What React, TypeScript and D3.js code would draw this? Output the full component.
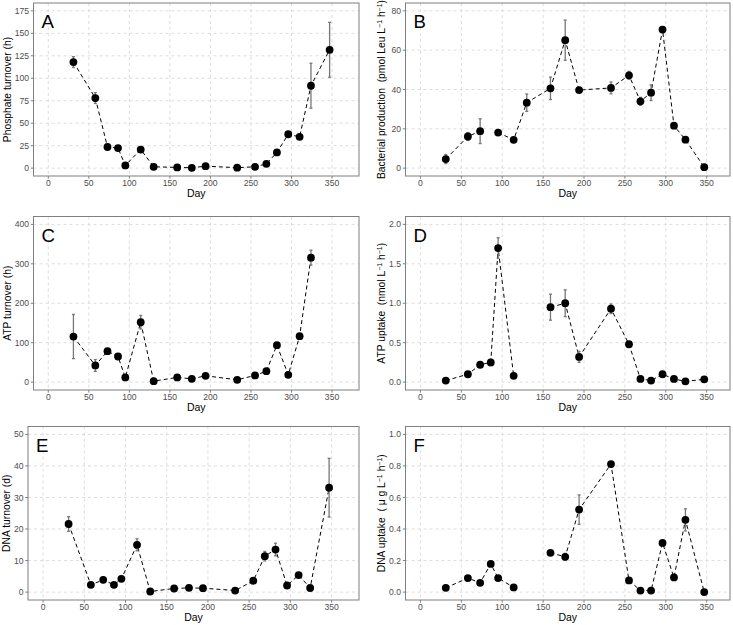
import React from "react";
import * as d3 from "d3";

const days = [31, 58, 73, 86, 95, 114, 130, 159, 177, 194, 233, 255, 269, 282, 296, 310, 324, 347];

const phosphateTurnover = [118, 78, 23.5, 22.3, 3, 20.7, 1.5, 0.8, 0.4, 2.2, 0.5, 1.5, 4.8, 17.5, 37.7, 34.8, 91.7, 131.7];
const phosphateErr = [6, 6, 0, 0, 0, 0, 0, 0, 0, 0, 0, 0, 0, 0, 0, 0, 25, 30.5];

const bacterialProduction = [4.6, 16.1, 18.8, null, 18.1, 14.4, 33.3, 40.6, 65.1, 39.7, 40.8, 47.2, 34, 38.4, 70.5, 21.6, 14.5, 0.5];
const bacterialErr = [2.3, 2, 6.3, null, 0, 0, 4.4, 5.7, 10.2, 0, 3, 2, 2, 4, 1.3, 0, 0, 0];

const atpTurnover = [115.6, 42.2, 78.5, 65, 11.8, 152, 2.5, 11.8, 8.4, 16, 5.9, 16.9, 27.8, 93.7, 18.6, 116.5, 315.6, null];
const atpTurnoverErr = [56, 15, 0, 0, 0, 17, 0, 0, 0, 0, 0, 0, 0, 5, 0, 0, 19, null];

const atpUptake = [0.02, 0.1, 0.22, 0.25, 1.7, 0.08, null, 0.95, 1.0, 0.32, 0.93, 0.48, 0.04, 0.02, 0.1, 0.04, 0.01, 0.035];
const atpUptakeErr = [0, 0, 0, 0.04, 0.13, 0, null, 0.165, 0.17, 0.07, 0.06, 0, 0, 0, 0, 0, 0, 0];

const dnaTurnover = [21.6, 2.3, 3.9, 2.3, 4.2, 15, 0.2, 1.15, 1.35, 1.25, 0.5, 3.6, 11.4, 13.5, 2.1, 5.4, 1.3, 33.1];
const dnaTurnoverErr = [2.3, 0, 0, 0, 0, 1.9, 0, 0, 0, 0, 0, 0, 1.5, 2, 0, 0, 0, 9.3];

const dnaUptake = [0.027, 0.089, 0.059, 0.179, 0.089, 0.03, null, 0.249, 0.224, 0.523, 0.812, 0.074, 0.01, 0.01, 0.312, 0.093, 0.458, 0.0];
const dnaUptakeErr = [0, 0, 0, 0, 0, 0, null, 0, 0.022, 0.093, 0, 0, 0, 0, 0, 0, 0.07, 0];

const xTicks = [0, 50, 100, 150, 200, 250, 300, 350];
const ticksA = [0, 25, 50, 75, 100, 125, 150, 175];
const ticksB = [0, 20, 40, 60, 80];
const ticksC = [0, 100, 200, 300, 400];
const ticksD = [0, 0.5, 1.0, 1.5, 2.0];
const ticksE = [0, 10, 20, 30, 40, 50];
const ticksF = [0, 0.2, 0.4, 0.6, 0.8, 1.0];

const FONT = "Liberation Sans, Arial, Helvetica, sans-serif";

type Box = { left: number; right: number; top: number; bottom: number };

function Sup({ children }: { children: React.ReactNode }) {
  return (
    <tspan baselineShift="super" fontSize="7">
      {children}
    </tspan>
  );
}

function Panel(props: {
  box: Box;
  xDomain: [number, number];
  yTicks: number[];
  fmt: (v: number) => string;
  values: (number | null)[];
  errs: (number | null)[];
  letter: string;
  titleX: number;
  title: React.ReactNode;
}) {
  const { box, xDomain, yTicks, fmt, values, errs, letter, titleX, title } = props;
  const yMax = yTicks[yTicks.length - 1];
  const x = d3.scaleLinear().domain(xDomain).range([box.left, box.right]);
  const y = d3
    .scaleLinear()
    .domain([-0.05 * yMax, 1.05 * yMax])
    .range([box.bottom, box.top]);
  const pts = days.map((d, i) => ({ d, v: values[i], e: errs[i] }));
  const line = d3
    .line<{ d: number; v: number | null }>()
    .defined((p) => p.v != null)
    .x((p) => x(p.d))
    .y((p) => y(p.v as number));
  const midY = (box.top + box.bottom) / 2;
  return (
    <g>
      {xTicks.map((t) => (
        <line key={"gx" + t} x1={x(t)} x2={x(t)} y1={box.top} y2={box.bottom} stroke="#d4d4d4" strokeWidth={0.8} strokeDasharray="3,3" />
      ))}
      {yTicks.map((t) => (
        <line key={"gy" + t} x1={box.left} x2={box.right} y1={y(t)} y2={y(t)} stroke="#d4d4d4" strokeWidth={0.8} strokeDasharray="3,3" />
      ))}
      <path d={line(pts) || ""} fill="none" stroke="#000" strokeWidth={1} strokeDasharray="4,3" />
      {pts
        .filter((p) => p.v != null && p.e != null && (p.e as number) > 0)
        .map((p) => (
          <g key={"e" + p.d} stroke="#777" strokeWidth={1.3}>
            <line x1={x(p.d)} x2={x(p.d)} y1={y((p.v as number) - (p.e as number))} y2={y((p.v as number) + (p.e as number))} />
            <line x1={x(p.d) - 1.5} x2={x(p.d) + 1.5} y1={y((p.v as number) + (p.e as number))} y2={y((p.v as number) + (p.e as number))} />
            <line x1={x(p.d) - 1.5} x2={x(p.d) + 1.5} y1={y((p.v as number) - (p.e as number))} y2={y((p.v as number) - (p.e as number))} />
          </g>
        ))}
      {pts
        .filter((p) => p.v != null)
        .map((p) => (
          <circle key={"c" + p.d} cx={x(p.d)} cy={y(p.v as number)} r={3.9} fill="#000" />
        ))}
      <rect x={box.left} y={box.top} width={box.right - box.left} height={box.bottom - box.top} fill="none" stroke="#7f7f7f" strokeWidth={1} />
      {xTicks.map((t) => (
        <g key={"tx" + t}>
          <line x1={x(t)} x2={x(t)} y1={box.bottom} y2={box.bottom + 2.7} stroke="#7f7f7f" strokeWidth={1} />
          <text x={x(t)} y={box.bottom + 10} textAnchor="middle" fontSize={8.6} fill="#4d4d4d" fontFamily={FONT}>
            {t}
          </text>
        </g>
      ))}
      {yTicks.map((t) => (
        <g key={"ty" + t}>
          <line x1={box.left - 2.7} x2={box.left} y1={y(t)} y2={y(t)} stroke="#7f7f7f" strokeWidth={1} />
          <text x={box.left - 4.5} y={y(t) + 3.1} textAnchor="end" fontSize={8.6} fill="#4d4d4d" fontFamily={FONT}>
            {fmt(t)}
          </text>
        </g>
      ))}
      <text x={(box.left + box.right) / 2} y={box.bottom + 21} textAnchor="middle" fontSize={10.5} fill="#000" fontFamily={FONT}>
        Day
      </text>
      <text transform={`translate(${titleX},${midY}) rotate(-90)`} textAnchor="middle" fontSize={10.3} fill="#000" fontFamily={FONT} style={{ whiteSpace: "pre" }}>
        {title}
      </text>
      <text x={box.left + 8} y={box.top + 25} fontSize={18.6} fill="#000" fontFamily={FONT}>
        {letter}
      </text>
    </g>
  );
}

const fmtInt = (v: number) => d3.format("d")(v);
const fmt1 = (v: number) => d3.format(".1f")(v);

export default function App() {
  const leftDom: [number, number] = [-18.25, 383.25];
  const rightDom: [number, number] = [-18.25, 378.5];
  return (
    <svg width={733} height={625} style={{ position: "absolute", left: 0, top: 0, background: "#fff" }}>
      <rect width={733} height={625} fill="#fff" />
      <Panel box={{ left: 33.5, right: 359, top: 3, bottom: 176 }} xDomain={leftDom} yTicks={ticksA} fmt={fmtInt} values={phosphateTurnover} errs={phosphateErr} letter="A" titleX={10.7} title="Phosphate turnover (h)" />
      <Panel
        box={{ left: 405.5, right: 730, top: 3, bottom: 176 }}
        xDomain={rightDom}
        yTicks={ticksB}
        fmt={fmtInt}
        values={bacterialProduction}
        errs={bacterialErr}
        letter="B"
        titleX={385}
        title={
          <>
            {"Bacterial production  (pmol Leu L"}<Sup>−1</Sup>{" h"}<Sup>−1</Sup>{")"}
          </>
        }
      />
      <Panel box={{ left: 33.5, right: 359, top: 216.5, bottom: 390 }} xDomain={leftDom} yTicks={ticksC} fmt={fmtInt} values={atpTurnover} errs={atpTurnoverErr} letter="C" titleX={10.7} title="ATP turnover (h)" />
      <Panel
        box={{ left: 405.5, right: 730, top: 216.5, bottom: 390 }}
        xDomain={rightDom}
        yTicks={ticksD}
        fmt={fmt1}
        values={atpUptake}
        errs={atpUptakeErr}
        letter="D"
        titleX={385}
        title={
          <>
            {"ATP uptake  (nmol L"}<Sup>−1</Sup>{" h"}<Sup>−1</Sup>{")"}
          </>
        }
      />
      <Panel box={{ left: 28, right: 359, top: 426.5, bottom: 600 }} xDomain={leftDom} yTicks={ticksE} fmt={fmtInt} values={dnaTurnover} errs={dnaTurnoverErr} letter="E" titleX={10} title="DNA turnover (d)" />
      <Panel
        box={{ left: 405.5, right: 730, top: 426.5, bottom: 600 }}
        xDomain={rightDom}
        yTicks={ticksF}
        fmt={fmt1}
        values={dnaUptake}
        errs={dnaUptakeErr}
        letter="F"
        titleX={385}
        title={
          <>
            {"DNA uptake  ( μ g L"}<Sup>−1</Sup>{" h"}<Sup>−1</Sup>{")"}
          </>
        }
      />
    </svg>
  );
}
